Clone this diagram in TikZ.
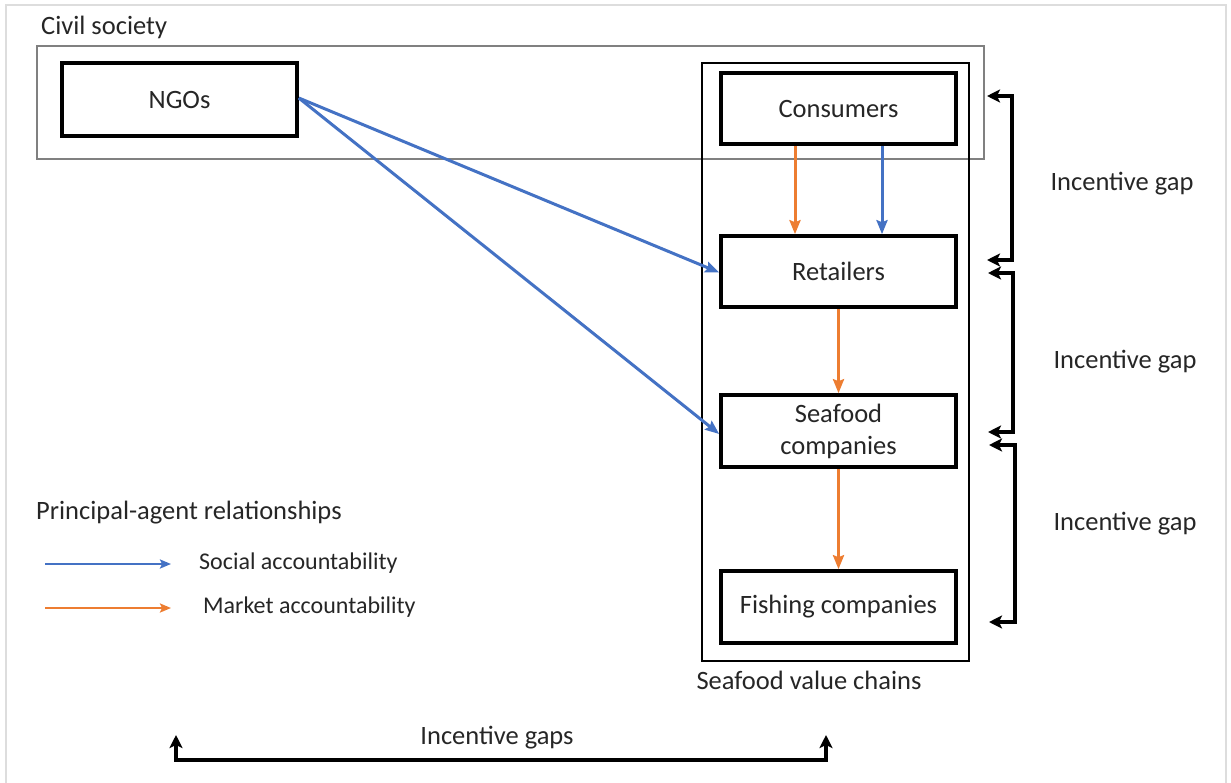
\documentclass[tikz,border=0pt]{standalone}
\usepackage{fontspec}
\setmainfont{Carlito}
\usetikzlibrary{arrows.meta}
\definecolor{socialblue}{HTML}{4472C4}
\definecolor{marketorange}{HTML}{ED7D31}
\definecolor{framegray}{HTML}{DDDDDD}
\definecolor{groupgray}{HTML}{808080}
\definecolor{inkgray}{HTML}{262626}
\tikzset{
  actor/.style={draw=black, line width=3.6pt, fill=white, minimum width=235pt,
    text=inkgray, font=\fontsize{26.5}{30}\selectfont, align=center, inner sep=2pt},
  label/.style={text=inkgray, font=\fontsize{26.5}{30}\selectfont, inner sep=0pt},
  legendtext/.style={text=inkgray, font=\fontsize{24}{28}\selectfont, inner sep=0pt, anchor=west},
  social/.style={draw=socialblue, line width=3pt, -{Stealth[length=14pt,width=11pt,inset=2pt]}},
  market/.style={draw=marketorange, line width=3pt, -{Stealth[length=14pt,width=11pt,inset=2pt]}},
  gapbracket/.style={draw=black, line width=3.5pt, {Stealth[length=13pt,width=13pt,inset=3pt]}-{Stealth[length=13pt,width=13pt,inset=3pt]}},
}
\begin{document}
\begin{tikzpicture}[x=1pt,y=-1pt]
\useasboundingbox (0,0) rectangle (1231,782);
% page frame (open at the bottom)
\draw[framegray, line width=1.5pt] (6,790) -- (6,5) -- (1226,5) -- (1226,790);

% group outlines
\draw[groupgray, line width=1.8pt] (37,46) rectangle (984,159);
\draw[black, line width=1.4pt] (702,63) rectangle (969,661);
\node[label, anchor=west] (civil) at (41,27) {Civil society};
\node[label] (chains) at (809,680) {Seafood value chains};

% actors
\node[actor, minimum height=73pt] (ngo) at (179.5,99.5) {NGOs};
\node[actor, minimum height=71pt] (cons) at (838.5,108.5) {Consumers};
\node[actor, minimum height=71pt] (ret) at (838.5,271.5) {Retailers};
\node[actor, minimum height=72pt] (sea) at (838.5,431) {Seafood\\[2pt]companies};
\node[actor, minimum height=72pt] (fish) at (838.5,607) {Fishing companies};

% principal-agent relations
\draw[market] ([xshift=-43.5pt]cons.south) -- ([xshift=-43.5pt]ret.north);
\draw[social] ([xshift=43.5pt]cons.south) -- ([xshift=43.5pt]ret.north);
\draw[market] (ret.south) -- (sea.north);
\draw[market] (sea.south) -- (fish.north);
\draw[social] ([yshift=1.5pt]ngo.east) -- ([yshift=-1pt]ret.west);
\draw[social] ([yshift=1.5pt]ngo.east) -- ([yshift=-3pt]sea.west);

% incentive gaps along the chain
\coordinate (g1a) at (987,96);
\coordinate (g1b) at (987,260);
\coordinate (g2a) at (988,273);
\coordinate (g2b) at (988,432);
\coordinate (g3a) at (989,445);
\coordinate (g3b) at (989,622);
\draw[gapbracket] (g1a) -- ++(25,0) |- (g1b);
\draw[gapbracket] (g2a) -- ++(25,0) |- (g2b);
\draw[gapbracket] (g3a) -- ++(26,0) |- (g3b);
\node[label] (gap1) at (1122,184) {Incentive gap};
\node[label] (gap2) at (1125,362) {Incentive gap};
\node[label] (gap3) at (1125,524) {Incentive gap};

% overall incentive gaps
\coordinate (gla) at (176,735);
\coordinate (glb) at (826,735);
\draw[gapbracket] (gla) -- ++(0,25) -| (glb);
\node[label] (gaps) at (497,738) {Incentive gaps};

% legend
\node[label, anchor=west] (legtitle) at (36,513) {Principal-agent relationships};
\coordinate (ls1) at (45,564);
\coordinate (le1) at (171,564);
\coordinate (ls2) at (45,608);
\coordinate (le2) at (171,608);
\draw[social, line width=2.6pt, -{Stealth[length=11pt,width=9pt,inset=2pt]}] (ls1) -- (le1);
\draw[market, line width=2.6pt, -{Stealth[length=11pt,width=9pt,inset=2pt]}] (ls2) -- (le2);
\node[legendtext] (legsocial) at (199,563) {Social accountability};
\node[legendtext] (legmarket) at (203,607) {Market accountability};
\end{tikzpicture}
\end{document}
